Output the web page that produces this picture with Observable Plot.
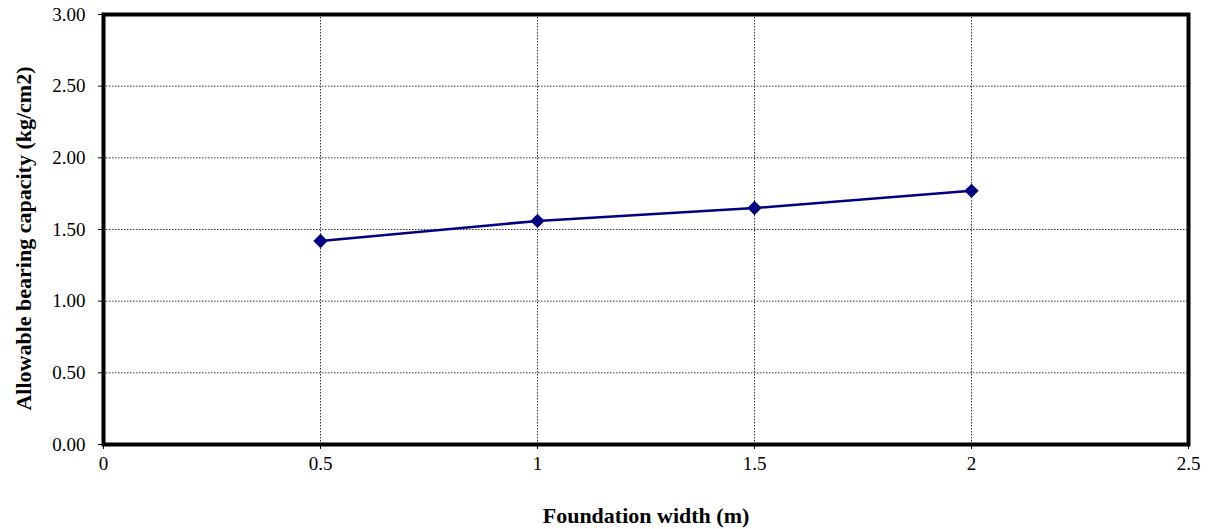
<!DOCTYPE html>
<html>
<head>
<meta charset="utf-8">
<script src="https://cdn.jsdelivr.net/npm/d3@7"></script>
<script src="https://cdn.jsdelivr.net/npm/@observablehq/plot@0.6"></script>
<style>
  html, body { margin: 0; padding: 0; background: #fff; }
  #chart svg { display: block; }
</style>
</head>
<body>
<div id="chart"></div>
<script>
const widths = [0.5, 1, 1.5, 2];
const capacity = [1.42, 1.56, 1.65, 1.77];
const xTicks = [0, 0.5, 1, 1.5, 2, 2.5];
const yTicks = [0, 0.5, 1, 1.5, 2, 2.5, 3];
const xTitle = "Foundation width (m)";
const yTitle = "Allowable bearing capacity (kg/cm2)";

const data = widths.map((w, i) => ({w, q: capacity[i]}));

const chart = Plot.plot({
  width: 1209,
  height: 529,
  marginLeft: 103,
  marginRight: 21,
  marginTop: 14,
  marginBottom: 85,
  style: {fontFamily: "'Liberation Serif', 'Times New Roman', serif", fontSize: "19px", color: "#000", background: "#fff"},
  x: {domain: [0, 2.5], ticks: xTicks, label: null},
  y: {domain: [0, 3], ticks: yTicks, label: null},
  marks: [
    Plot.gridX(xTicks.slice(1, -1), {stroke: "#000", strokeOpacity: 1, strokeWidth: 0.8, strokeDasharray: "1.5,1.5"}),
    Plot.gridY(yTicks.slice(1, -1), {stroke: "#000", strokeOpacity: 1, strokeWidth: 0.8, strokeDasharray: "1.5,1.5"}),
    Plot.axisX(xTicks, {tickSize: 5, tickPadding: 7, tickFormat: d => String(d), fontSize: 19, label: null}),
    Plot.axisY(yTicks, {tickSize: 5, tickPadding: 13, tickFormat: d => d.toFixed(2), fontSize: 19, label: null}),
    Plot.frame({stroke: "#000", strokeWidth: 4}),
    Plot.line(data, {x: "w", y: "q", stroke: "#000080", strokeWidth: 2.5}),
    Plot.dot(data, {x: "w", y: "q", symbol: "diamond2", r: 5.5, fill: "#000080", stroke: "#000080"}),
    Plot.text([xTitle], {frameAnchor: "bottom", dy: 78, fontWeight: "bold", fontSize: 22}),
    Plot.text([yTitle], {frameAnchor: "left", textAnchor: "middle", dx: -80, dy: 9, rotate: -90, fontWeight: "bold", fontSize: 22})
  ]
});
document.getElementById("chart").appendChild(chart);
</script>
</body>
</html>
